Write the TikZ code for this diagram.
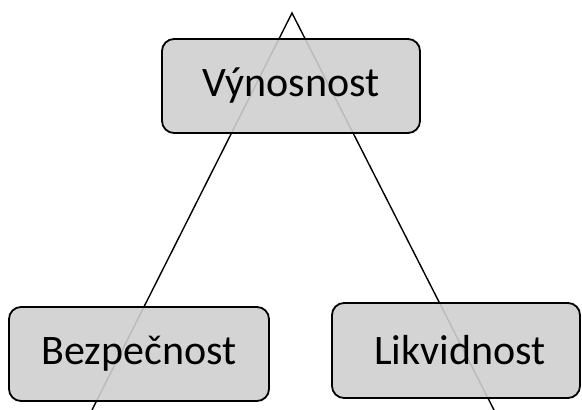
\documentclass[tikz,border=0pt]{standalone}
\usepackage{fontspec}
\setmainfont{Carlito}
\begin{document}
\begin{tikzpicture}[x=1pt,y=1pt,
  goal/.style={draw=black, line width=1.8pt, rounded corners=12pt,
    fill=black!19, fill opacity=0.9, text opacity=1,
    font=\fontsize{42}{46}\selectfont, inner sep=0pt},
  side/.style={draw=black, line width=1.4pt, line join=miter}]
  \useasboundingbox (0,0) rectangle (582,410);
  % the triangle behind the three goals
  \coordinate (apex) at (292,397);
  \coordinate (leftfoot) at (92,0);
  \coordinate (rightfoot) at (494,0);
  \draw[side] (leftfoot) -- (apex) -- (rightfoot);
  % the three goals
  \node[goal, minimum width=258pt, minimum height=94pt] (vyn) at (291,324) {Výnosnost};
  \node[goal, minimum width=260pt, minimum height=94pt] (bez) at (139,56) {Bezpečnost};
  \node[goal, minimum width=248pt, minimum height=95pt, text width=248pt, align=center] (lik) at (456,59.5) {\hspace*{8pt}Likvidnost};
\end{tikzpicture}
\end{document}
